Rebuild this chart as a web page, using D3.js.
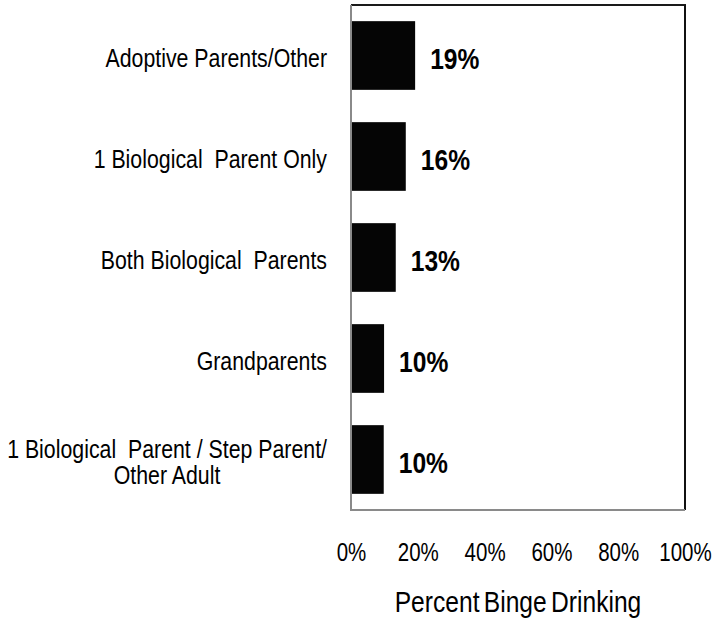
<!DOCTYPE html>
<html>
<head>
<meta charset="utf-8">
<script src="https://cdn.jsdelivr.net/npm/d3@7"></script>
<style>
  html, body { margin: 0; padding: 0; background: #fff; }
  svg text { font-family: "Liberation Sans Narrow", "Arial Narrow", "Liberation Sans", Arial, sans-serif; fill: #000; white-space: pre; }
</style>
</head>
<body>
<svg id="chart" width="713" height="625"></svg>
<script>
const categories = [
  ["Adoptive Parents/Other"],
  ["1 Biological  Parent Only"],
  ["Both Biological  Parents"],
  ["Grandparents"],
  ["1 Biological  Parent / Step Parent/", "Other Adult"]
];
const values = [19.2, 16.4, 13.4, 9.9, 9.8];
const tickValues = [0, 20, 40, 60, 80, 100];
const axisTitle = "Percent Binge Drinking";

const SX = 0.82; // horizontal condensing (Arial Narrow look)

const svg = d3.select("#chart");
const frame = { left: 351, right: 685, top: 5, bottom: 510 };

const x = d3.scaleLinear().domain([0, 100]).range([frame.left, frame.right]);
const y = d3.scaleBand().domain(d3.range(categories.length))
  .range([frame.top, frame.bottom]).paddingInner(0.32).paddingOuter(0.16);

// bars
svg.append("g").selectAll("rect").data(values).join("rect")
  .attr("x", x(0))
  .attr("y", (d, i) => y(i))
  .attr("width", d => x(d) - x(0))
  .attr("height", y.bandwidth())
  .attr("fill", "#050505");

// frame: top/right dark, left/bottom gray
svg.append("line").attr("x1", frame.left).attr("x2", frame.right + 1).attr("y1", frame.top).attr("y2", frame.top)
  .attr("stroke", "#1a1a1a").attr("stroke-width", 2);
svg.append("line").attr("x1", frame.right).attr("x2", frame.right).attr("y1", frame.top).attr("y2", frame.bottom)
  .attr("stroke", "#111").attr("stroke-width", 2);
svg.append("line").attr("x1", frame.left).attr("x2", frame.left).attr("y1", frame.top).attr("y2", frame.bottom + 1)
  .attr("stroke", "#8a8a8a").attr("stroke-width", 2);
svg.append("line").attr("x1", frame.left).attr("x2", frame.right).attr("y1", frame.bottom).attr("y2", frame.bottom)
  .attr("stroke", "#8a8a8a").attr("stroke-width", 2);

// value labels
const fmt = d => Math.round(d) + "%";
svg.append("g").selectAll("g").data(values).join("g")
  .attr("transform", (d, i) => `translate(${x(d) + 15},${y(i) + y.bandwidth() / 2 + 3}) scale(${SX},1)`)
  .append("text")
  .attr("dy", "0.35em")
  .attr("font-size", 30)
  .attr("font-weight", "bold")
  .text(fmt);

// category labels
const labelX = 327;
const catG = svg.append("g");
categories.forEach((lines, i) => {
  const cy = y(i) + y.bandwidth() / 2 + 2;
  const lh = 26;
  const n = lines.length;
  const g = catG.append("g").attr("transform", `translate(${labelX},${cy}) scale(${SX},1)`);
  const t = g.append("text").attr("font-size", 26);
  const first = t.append("tspan")
    .attr("x", 0).attr("text-anchor", "end")
    .attr("y", -(n - 1) * lh / 2).attr("dy", "0.35em")
    .text(lines[0]);
  if (n > 1) {
    const w = first.node().getComputedTextLength();
    for (let k = 1; k < n; k++) {
      t.append("tspan")
        .attr("x", -w / 2).attr("text-anchor", "middle")
        .attr("y", -(n - 1) * lh / 2 + k * lh).attr("dy", "0.35em")
        .text(lines[k]);
    }
  }
});

// x axis
const xAxis = d3.axisBottom(x).tickValues(tickValues).tickSize(0).tickFormat(d => d + "%");
const ax = svg.append("g").attr("transform", `translate(0,${frame.bottom})`).call(xAxis);
ax.select(".domain").remove();
ax.selectAll("text")
  .attr("y", 0).attr("dy", 0)
  .attr("transform", `translate(0,51) scale(${SX},1)`)
  .attr("font-size", 25)
  .style("font-family", "\"Liberation Sans Narrow\", \"Arial Narrow\", \"Liberation Sans\", Arial, sans-serif")
  .attr("fill", "#000");

// axis title
svg.append("g")
  .attr("transform", `translate(${(frame.left + frame.right) / 2},612) scale(${SX},1)`)
  .append("text")
  .attr("text-anchor", "middle")
  .attr("font-size", 30)
  .style("word-spacing", "-3px")
  .text(axisTitle);
</script>
</body>
</html>
